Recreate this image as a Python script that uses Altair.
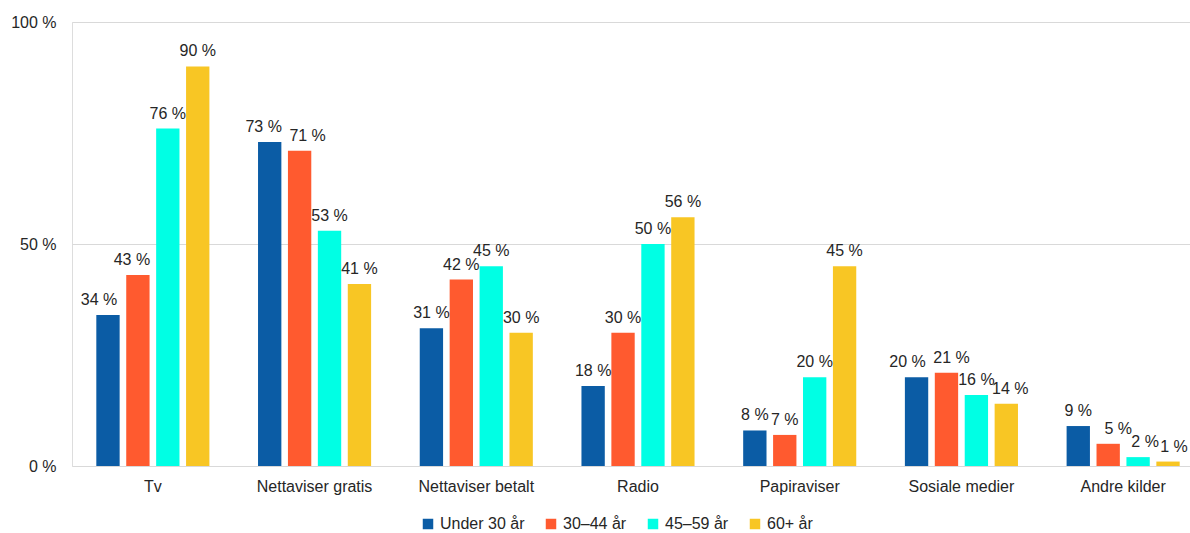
import altair as alt
import pandas as pd

categories = ["Tv", "Nettaviser gratis", "Nettaviser betalt", "Radio",
              "Papiraviser", "Sosiale medier", "Andre kilder"]
series = ["Under 30 år", "30–44 år", "45–59 år", "60+ år"]
under30 = [34, 73, 31, 18, 8, 20, 9]
age30_44 = [43, 71, 42, 30, 7, 21, 5]
age45_59 = [76, 53, 45, 50, 20, 16, 2]
age60 = [90, 41, 30, 56, 45, 14, 1]
colors = ["#0b5ca5", "#ff5a2f", "#00ffe4", "#f8c624"]

# label nudges (style only) to keep crowded labels apart, as in the reference
label_nudge = {
    ("Tv", "Under 30 år"): -9,
    ("Tv", "30–44 år"): -6,
    ("Nettaviser gratis", "Under 30 år"): -6,
    ("Nettaviser gratis", "30–44 år"): 8,
    ("Sosiale medier", "Under 30 år"): -9,
    ("Sosiale medier", "30–44 år"): 5,
    ("Sosiale medier", "60+ år"): 4,
    ("Andre kilder", "30–44 år"): 10,
    ("Andre kilder", "45–59 år"): 7,
    ("Andre kilder", "60+ år"): 6,
}

rows = []
for s, vals in zip(series, [under30, age30_44, age45_59, age60]):
    for c, v in zip(categories, vals):
        rows.append({"kategori": c, "gruppe": s, "verdi": v,
                     "nudge": label_nudge.get((c, s), 0)})
df = pd.DataFrame(rows)

font = "Liberation Sans"

x = alt.X("kategori:N", sort=categories, title=None,
          scale=alt.Scale(paddingInner=0.26, paddingOuter=0.13),
          axis=alt.Axis(labelAngle=0, labelFontSize=16, labelColor="#262626",
                        labelFont=font, ticks=False, domain=False, labelPadding=12))
xo = alt.XOffset("gruppe:N", sort=series,
                 scale=alt.Scale(paddingInner=0.22, paddingOuter=0.11))
y = alt.Y("verdi:Q", title=None,
          scale=alt.Scale(domain=[0, 100], nice=False),
          axis=alt.Axis(values=[0, 50, 100], labelExpr="datum.value + ' %'",
                        labelFontSize=16, labelColor="#262626", labelFont=font,
                        ticks=False, domain=False, gridColor="#d9d9d9",
                        labelPadding=16))

bars = alt.Chart(df).mark_bar().encode(
    x=x, xOffset=xo, y=y,
    color=alt.Color("gruppe:N", sort=series,
                    scale=alt.Scale(domain=series, range=colors),
                    legend=alt.Legend(title=None, orient="none", direction="horizontal",
                                      legendX=348, legendY=494, symbolType="square",
                                      symbolSize=110, symbolStrokeWidth=0,
                                      labelFontSize=16, labelFont=font,
                                      labelColor="#262626", columnPadding=18,
                                      labelOffset=4)),
)

layers = [bars]
for n in sorted(set(df["nudge"])):
    layers.append(
        alt.Chart(df).transform_filter(f"datum.nudge == {n}").transform_calculate(
            lbl="datum.verdi + ' %'"
        ).mark_text(baseline="bottom", dy=-7, dx=int(n), fontSize=16, font=font,
                    color="#262626").encode(x=x, xOffset=xo, y=y, text="lbl:N")
    )

chart = alt.layer(*layers).properties(
    width=1132, height=444,
    padding={"left": 72, "top": 22, "right": -14, "bottom": 67},
    autosize=alt.AutoSizeParams(type="none"),
).configure_view(stroke="#d9d9d9").configure(background="white")

chart.save("out.html", embed_options={"renderer": "svg", "actions": False})
